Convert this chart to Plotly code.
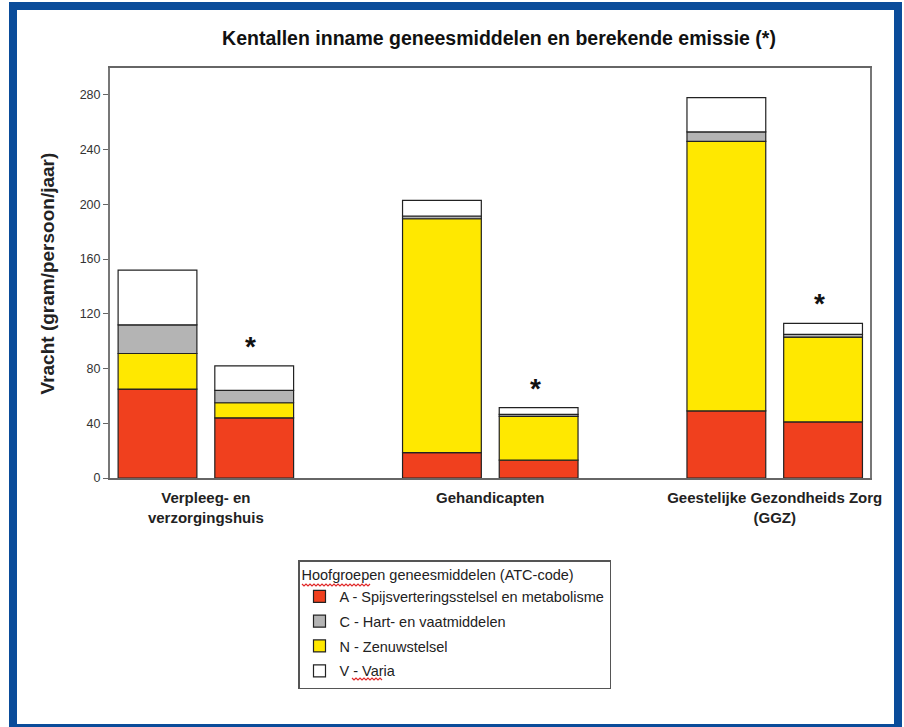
import plotly.graph_objects as go

# Categories (care settings) and the two bars per setting: intake and calculated emission
categories = ["Verpleeg- en<br>verzorgingshuis", "Gehandicapten", "Geestelijke Gezondheids Zorg<br>(GGZ)"]

# Load in gram/persoon/jaar per ATC main group; first value per setting = intake, second = emission (*)
A_intake = [65, 18.5, 49]
A_emission = [44, 13, 41]
C_intake = [21, 2, 7]
C_emission = [9, 1.5, 2]
N_intake = [26, 171, 197]
N_emission = [11, 32, 62]
V_intake = [40, 11.5, 25]
V_emission = [18, 5, 8]

name_A = "A - Spijsverteringsstelsel en metabolisme"
name_C = "C - Hart- en vaatmiddelen"
name_N = "N - Zenuwstelsel"
name_V = "V - Varia"

color_A = "#F0401E"
color_C = "#B4B4B4"
color_N = "#FFE800"
color_V = "#FFFFFF"

y_ticks = [0, 40, 80, 120, 160, 200, 240, 280]

# Bar placement within each category
offset = 0.17
bar_w = 0.277
x_pos = []
for i in range(len(categories)):
    x_pos += [i - offset, i + offset]


def interleave(intake, emission):
    out = []
    for a, b in zip(intake, emission):
        out += [a, b]
    return out


# Stacking order bottom to top: A, N, C, V; legend order A, C, N, V
stack = [
    (name_A, interleave(A_intake, A_emission), color_A, 1),
    (name_N, interleave(N_intake, N_emission), color_N, 3),
    (name_C, interleave(C_intake, C_emission), color_C, 2),
    (name_V, interleave(V_intake, V_emission), color_V, 4),
]

fig = go.Figure()
for name, vals, col, rank in stack:
    fig.add_trace(go.Bar(
        x=x_pos, y=vals, width=bar_w, name=name,
        legendgroup=name, legendrank=rank,
        marker=dict(color=col, line=dict(color="#222222", width=1.2)),
    ))

# Asterisks above the emission bars
totals_emission = [a + c + n + v for a, c, n, v in zip(A_emission, C_emission, N_emission, V_emission)]
for i, tot in enumerate(totals_emission):
    fig.add_annotation(
        x=i + offset - 0.012, y=tot, xref="x", yref="y", text="<b>*</b>", showarrow=False,
        yanchor="bottom", yshift=2, font=dict(size=28, color="#111111", family="Arial, Liberation Sans"),
    )

# Y-axis title
fig.add_annotation(
    x=-0.0987, y=0.5, xref="paper", yref="paper", text="<b>Vracht (gram/persoon/jaar)</b>",
    textangle=-90, showarrow=False, font=dict(size=19, color="#222222", family="Arial, Liberation Sans"),
)


def px_x(p):
    return (p - 110) / 760


def px_y(p):
    return (478 - p) / 410


def wavy(x0, x1, y):
    # small zigzag line (spell-check style underline)
    pts = []
    x = x0
    up = True
    while x <= x1:
        pts.append((px_x(x), px_y(y - 1 if up else y + 1)))
        up = not up
        x += 2
    return "M" + " L".join(f"{a:.5f},{b:.5f}" for a, b in pts)


# Red wavy underlines in the legend
fig.add_shape(type="path", xref="paper", yref="paper", path=wavy(302, 370, 585),
              line=dict(color="#E02828", width=1.2), layer="above")
fig.add_shape(type="path", xref="paper", yref="paper", path=wavy(352, 382, 679),
              line=dict(color="#E02828", width=1.2), layer="above")

# Blue frame around the whole figure
fig.add_shape(
    type="rect", xref="paper", yref="paper",
    x0=px_x(13), x1=px_x(898), y0=px_y(728), y1=px_y(6),
    line=dict(color="#0A4C9A", width=8), fillcolor="rgba(0,0,0,0)", layer="above",
)

fig.update_layout(
    width=904, height=727,
    margin=dict(l=110, r=34, t=68, b=249),
    paper_bgcolor="white", plot_bgcolor="white",
    barmode="relative",
    font=dict(family="Arial, Liberation Sans", color="#222222"),
    title=dict(
        text="<b>Kentallen inname geneesmiddelen en berekende emissie (*)</b>",
        x=499 / 904, xanchor="center", y=1 - 38 / 727, yanchor="middle",
        font=dict(size=19.5, color="#111111"),
    ),
    xaxis=dict(
        range=[-0.337, 2.335], tickvals=list(range(len(categories))),
        ticktext=[f"<b>{c}</b>" for c in categories],
        tickfont=dict(size=15, color="#222222"),
        showline=True, linecolor="#666666", linewidth=2, mirror=True,
        showgrid=False, zeroline=False, ticks="", ticklabelstandoff=5,
    ),
    yaxis=dict(
        range=[0, 299.7], tickvals=y_ticks,
        tickfont=dict(size=12.5, color="#333333"),
        showline=True, linecolor="#777777", linewidth=2, mirror=True,
        showgrid=False, zeroline=False, ticks="outside", ticklen=5, tickcolor="#666666",
    ),
    showlegend=True,
    legend=dict(
        x=px_x(298), y=px_y(560), xanchor="left", yanchor="top",
        bordercolor="#555555", borderwidth=1.5, bgcolor="rgba(0,0,0,0)",
        traceorder="grouped", tracegroupgap=3,
        font=dict(size=14.5, color="#222222"),
        title=dict(text="Hoofgroepen geneesmiddelen (ATC-code)", font=dict(size=14.5, color="#222222")),
    ),
)

fig.write_html("out.html")
